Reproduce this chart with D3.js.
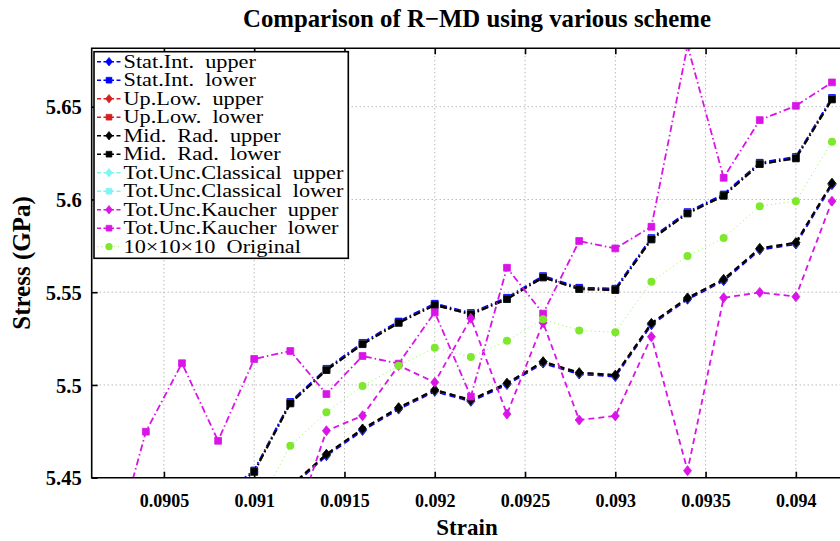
<!DOCTYPE html>
<html>
<head>
<meta charset="utf-8">
<script src="https://cdn.jsdelivr.net/npm/d3@7"></script>
<style>
  body { margin: 0; background: #fff; }
  svg { display: block; }
</style>
</head>
<body>
<svg id="chart" width="840" height="541"></svg>
<script>
// ---- data -------------------------------------------------------------
const strain = [0.0902, 0.0904, 0.0906, 0.0908, 0.0910, 0.0912, 0.0914, 0.0916, 0.0918, 0.0920,
                0.0922, 0.0924, 0.0926, 0.0928, 0.0930, 0.0932, 0.0934, 0.0936, 0.0938, 0.0940, 0.0942];

const statIntUpper = [null, null, null, null, null, 5.4446, 5.4619, 5.4755, 5.4870, 5.4966,
                      5.4912, 5.5002, 5.5118, 5.5059, 5.5046, 5.5325, 5.5462, 5.5562, 5.5729, 5.5760, 5.6080];
const statIntLower = [null, null, null, 5.4387, 5.4539, 5.4908, 5.5087, 5.5227, 5.5342, 5.5438,
                      5.5388, 5.5470, 5.5587, 5.5524, 5.5519, 5.5792, 5.5932, 5.6027, 5.6198, 5.6229, 5.6547];
const upLowUpper   = [null, null, null, null, null, 5.4453, 5.4626, 5.4762, 5.4877, 5.4973,
                      5.4919, 5.5009, 5.5125, 5.5066, 5.5053, 5.5332, 5.5469, 5.5569, 5.5736, 5.5767, 5.6087];
const upLowLower   = [null, null, null, 5.4380, 5.4532, 5.4901, 5.5080, 5.5220, 5.5335, 5.5431,
                      5.5381, 5.5463, 5.5580, 5.5517, 5.5512, 5.5785, 5.5925, 5.6020, 5.6191, 5.6222, 5.6540];
const midRadUpper  = [null, null, null, null, null, 5.4453, 5.4626, 5.4762, 5.4877, 5.4973,
                      5.4919, 5.5009, 5.5125, 5.5066, 5.5053, 5.5332, 5.5469, 5.5569, 5.5736, 5.5767, 5.6087];
const midRadLower  = [null, null, null, 5.4380, 5.4532, 5.4901, 5.5080, 5.5220, 5.5335, 5.5431,
                      5.5381, 5.5463, 5.5580, 5.5517, 5.5512, 5.5785, 5.5925, 5.6020, 5.6191, 5.6222, 5.6540];
const classicalUpper = [null, null, null, null, null, 5.4453, 5.4626, 5.4762, 5.4877, 5.4973,
                        5.4919, 5.5009, 5.5125, 5.5066, 5.5053, 5.5332, 5.5469, 5.5569, 5.5736, 5.5767, 5.6087];
const classicalLower = [null, null, null, 5.4380, 5.4532, 5.4901, 5.5080, 5.5220, 5.5335, 5.5431,
                        5.5381, 5.5463, 5.5580, 5.5517, 5.5512, 5.5785, 5.5925, 5.6020, 5.6191, 5.6222, 5.6540];
const kaucherUpper = [null, null, null, null, null, 5.4180, 5.4753, 5.4834, 5.5105, 5.5014,
                      5.5359, 5.4843, 5.5335, 5.4811, 5.4833, 5.5260, 5.4538, 5.5470, 5.5499, 5.5476, 5.5991];
const kaucherLower = [5.4040, 5.4748, 5.5117, 5.4699, 5.5140, 5.5183, 5.4951, 5.5156, 5.5115, 5.5392,
                      5.4937, 5.5632, 5.5385, 5.5776, 5.5736, 5.5853, 5.6830, 5.6117, 5.6428, 5.6505, 5.6631];
const original     = [null, null, null, null, 5.4310, 5.4672, 5.4853, 5.4994, 5.5104, 5.5201,
                      5.5151, 5.5238, 5.5354, 5.5294, 5.5284, 5.5557, 5.5695, 5.5792, 5.5964, 5.5991, 5.6311];

const xTicks = [0.0905, 0.0910, 0.0915, 0.0920, 0.0925, 0.0930, 0.0935, 0.0940];
const xTickLabels = ["0.0905", "0.091", "0.0915", "0.092", "0.0925", "0.093", "0.0935", "0.094"];
const yTicks = [5.45, 5.50, 5.55, 5.60, 5.65];
const yTickLabels = ["5.45", "5.5", "5.55", "5.6", "5.65"];

const seriesNames = ["Stat.Int.  upper", "Stat.Int.  lower", "Up.Low.  upper", "Up.Low.  lower",
                     "Mid.  Rad.  upper", "Mid.  Rad.  lower", "Tot.Unc.Classical  upper",
                     "Tot.Unc.Classical  lower", "Tot.Unc.Kaucher  upper", "Tot.Unc.Kaucher  lower",
                     "10\u00D710\u00D710  Original"];

// ---- styling per series -------------------------------------------------
const BLUE = "#0000ff", RED = "#d42020", BLACK = "#000000", CYAN = "#7ff4f4",
      MAGENTA = "#d914e6", GREEN = "#7ee82c";
const DASH = "6,4", DASHDOT = "7,3,1.5,3", DOT = "1.2,3";

const series = [
  { name: seriesNames[0],  values: statIntUpper,   color: BLUE,    dash: DASH,    marker: "diamond", lw: 2.2 },
  { name: seriesNames[1],  values: statIntLower,   color: BLUE,    dash: DASHDOT, marker: "square",  lw: 2.2 },
  { name: seriesNames[2],  values: upLowUpper,     color: RED,     dash: DASH,    marker: "diamond", lw: 2.0 },
  { name: seriesNames[3],  values: upLowLower,     color: RED,     dash: DASHDOT, marker: "square",  lw: 2.0 },
  { name: seriesNames[6],  values: classicalUpper, color: CYAN,    dash: DASH,    marker: "diamond", lw: 1.5 },
  { name: seriesNames[7],  values: classicalLower, color: CYAN,    dash: DASHDOT, marker: "square",  lw: 1.5 },
  { name: seriesNames[4],  values: midRadUpper,    color: BLACK,   dash: DASH,    marker: "diamond", lw: 2.2 },
  { name: seriesNames[5],  values: midRadLower,    color: BLACK,   dash: DASHDOT, marker: "square",  lw: 2.2 },
  { name: seriesNames[8],  values: kaucherUpper,   color: MAGENTA, dash: DASH,    marker: "diamond", lw: 1.8 },
  { name: seriesNames[9],  values: kaucherLower,   color: MAGENTA, dash: DASHDOT, marker: "square",  lw: 1.8 },
  { name: seriesNames[10], values: original,       color: GREEN,   dash: DOT,     marker: "circle",  lw: 1.0, lineColor: "#a8f07a" }
];
// legend keeps the original listing order
const legendOrder = [0, 1, 2, 3, 6, 7, 4, 5, 8, 9, 10];

// ---- layout ---------------------------------------------------------------
const svg = d3.select("#chart");
const plot = { left: 91.7, right: 841, top: 48.3, bottom: 477.7 };
const SERIF = "'Liberation Serif', 'Times New Roman', serif";

const x = d3.scaleLinear().domain([0.0901, 0.09425]).range([plot.left, plot.right]);
const y = d3.scaleLinear().domain([5.45, 5.6815]).range([plot.bottom, plot.top]);

svg.append("defs").append("clipPath").attr("id", "plotClip")
  .append("rect")
  .attr("x", plot.left).attr("y", plot.top)
  .attr("width", plot.right - plot.left).attr("height", plot.bottom - plot.top);

// grid
const grid = svg.append("g").attr("stroke", "#9a9a9a").attr("stroke-width", 1)
  .attr("stroke-dasharray", "1,3");
grid.selectAll("line.gx").data(xTicks).join("line")
  .attr("x1", d => x(d)).attr("x2", d => x(d))
  .attr("y1", plot.top).attr("y2", plot.bottom);
grid.selectAll("line.gy").data(yTicks).join("line")
  .attr("x1", plot.left).attr("x2", plot.right)
  .attr("y1", d => y(d)).attr("y2", d => y(d));

// ---- marks ------------------------------------------------------------------
const markerPath = {
  diamond: "M0,-5L4,0L0,5L-4,0Z",
  square: "M-3.4,-3.4H3.4V3.4H-3.4Z"
};

const marks = svg.append("g").attr("clip-path", "url(#plotClip)");
const line = d3.line()
  .defined(d => d.v !== null)
  .x(d => x(d.s)).y(d => y(d.v));

series.forEach(s => {
  const pts = strain.map((st, i) => ({ s: st, v: s.values[i] }));
  const g = marks.append("g");
  g.append("path")
    .datum(pts)
    .attr("d", line)
    .attr("fill", "none")
    .attr("stroke", s.lineColor || s.color)
    .attr("stroke-width", s.lw)
    .attr("stroke-dasharray", s.dash);
  const valid = pts.filter(d => d.v !== null);
  if (s.marker === "circle") {
    g.selectAll("circle").data(valid).join("circle")
      .attr("cx", d => x(d.s)).attr("cy", d => y(d.v)).attr("r", 4)
      .attr("fill", s.color);
  } else {
    g.selectAll("path.m").data(valid).join("path")
      .attr("class", "m")
      .attr("d", markerPath[s.marker])
      .attr("transform", d => `translate(${x(d.s)},${y(d.v)})`)
      .attr("fill", s.color).attr("stroke", s.color).attr("stroke-width", 0.8);
  }
});

// ---- axes frame and ticks -------------------------------------------------
const frame = svg.append("g").attr("stroke", "#000").attr("stroke-width", 1.6).attr("fill", "none");
frame.append("path")
  .attr("d", `M${plot.right},${plot.top}H${plot.left}V${plot.bottom}H${plot.right}`);

const tickLen = 6;
const xAxisBottom = d3.axisBottom(x).tickValues(xTicks).tickSize(-tickLen).tickFormat((d, i) => xTickLabels[i]);
const xAxisTop = d3.axisTop(x).tickValues(xTicks).tickSize(-tickLen).tickFormat("");
const yAxisLeft = d3.axisLeft(y).tickValues(yTicks).tickSize(-tickLen).tickFormat((d, i) => yTickLabels[i]);

function styleAxis(g, size) {
  g.select(".domain").remove();
  g.selectAll(".tick line").attr("stroke", "#000").attr("stroke-width", 1.6);
  g.selectAll(".tick text")
    .attr("fill", "#000")
    .style("font-family", SERIF).style("font-weight", "bold").style("font-size", size + "px");
}
svg.append("g").attr("transform", `translate(0,${plot.bottom})`).call(xAxisBottom).call(styleAxis, 18)
  .selectAll(".tick text").attr("dy", null).attr("y", 29);
svg.append("g").attr("transform", `translate(0,${plot.top})`).call(xAxisTop).call(styleAxis, 18);
svg.append("g").attr("transform", `translate(${plot.left},0)`).call(yAxisLeft).call(styleAxis, 20.5)
  .selectAll(".tick text").attr("x", -10).attr("dy", "0.35em");

// ---- titles -----------------------------------------------------------------
svg.append("text")
  .attr("x", 477).attr("y", 27)
  .attr("text-anchor", "middle")
  .style("font-family", SERIF).style("font-weight", "bold").style("font-size", "24.8px")
  .text("Comparison of R\u2212MD using various scheme");

svg.append("text")
  .attr("x", 467).attr("y", 535)
  .attr("text-anchor", "middle")
  .style("font-family", SERIF).style("font-weight", "bold").style("font-size", "23px")
  .text("Strain");

svg.append("text")
  .attr("transform", `translate(30,${(plot.top + plot.bottom) / 2}) rotate(-90)`)
  .attr("text-anchor", "middle")
  .style("font-family", SERIF).style("font-weight", "bold").style("font-size", "25px")
  .text("Stress (GPa)");

// ---- legend -------------------------------------------------------------------
const leg = { x: 94, y: 51.7, w: 254.3, h: 206.6, row: 18.5, first: 61.7 };
const lg = svg.append("g");
lg.append("rect")
  .attr("x", leg.x).attr("y", leg.y).attr("width", leg.w).attr("height", leg.h)
  .attr("fill", "#fff").attr("stroke", "#000").attr("stroke-width", 1.6);

legendOrder.forEach((si, i) => {
  const s = series[si];
  const cy = leg.first + i * leg.row;
  const row = lg.append("g");
  row.append("line")
    .attr("x1", 97).attr("x2", 121).attr("y1", cy).attr("y2", cy)
    .attr("stroke", s.lineColor || s.color).attr("stroke-width", s.marker === "circle" ? 1 : 1.5)
    .attr("stroke-dasharray", s.marker === "circle" ? DOT : "4,2.5");
  if (s.marker === "circle") {
    row.append("circle").attr("cx", 109).attr("cy", cy).attr("r", 3.6).attr("fill", s.color);
  } else {
    row.append("path").attr("d", markerPath[s.marker])
      .attr("transform", `translate(109,${cy}) scale(0.85)`)
      .attr("fill", s.color).attr("stroke", s.color).attr("stroke-width", 0.8);
  }
  row.append("text")
    .attr("class", "legtext")
    .attr("x", 0).attr("y", 0)
    .attr("transform", `translate(123.5,${cy + 6})`)
    .style("font-family", SERIF).style("font-size", "18px").style("white-space", "pre")
    .attr("xml:space", "preserve")
    .text(s.name);
});

// stretch legend labels so the longest one fills the box width
const legTexts = lg.selectAll("text.legtext");
let maxW = 0;
legTexts.each(function () { maxW = Math.max(maxW, this.getComputedTextLength()); });
const sx = 220 / maxW;
legTexts.each(function () {
  const t = d3.select(this);
  t.attr("transform", t.attr("transform") + ` scale(${sx},1)`);
});
</script>
</body>
</html>
